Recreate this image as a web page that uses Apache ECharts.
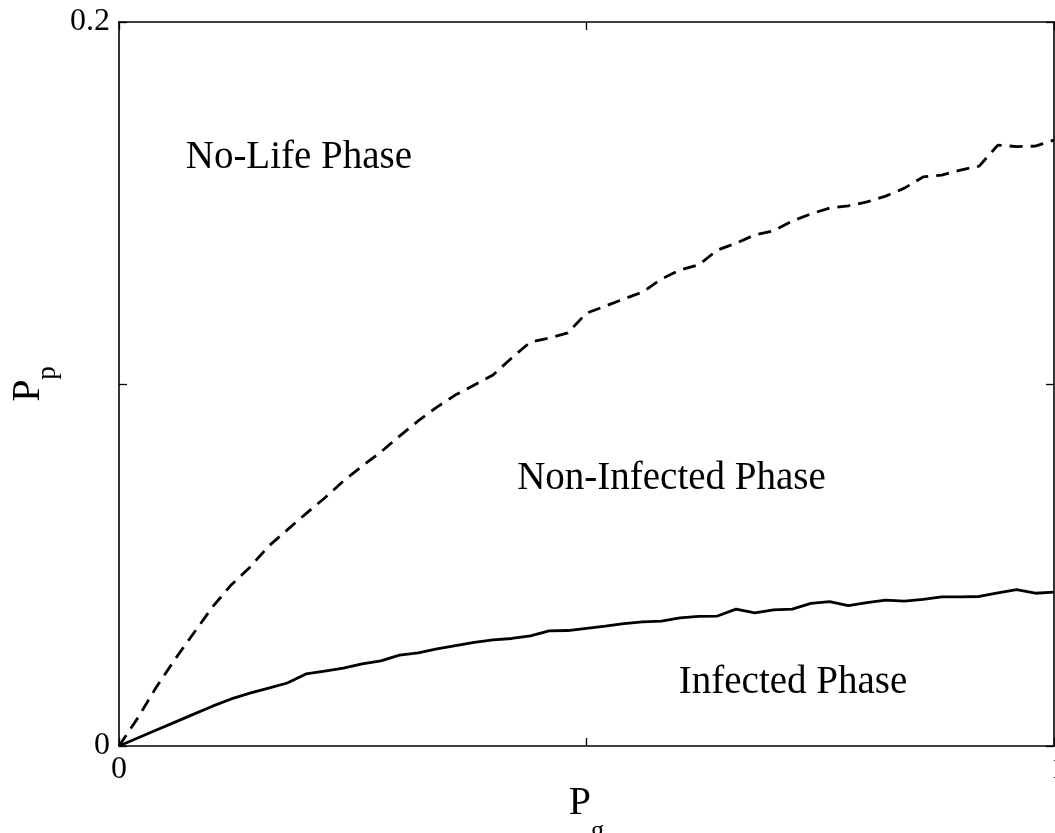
<!DOCTYPE html>
<html>
<head>
<meta charset="utf-8">
<script src="https://cdn.jsdelivr.net/npm/echarts@6/dist/echarts.min.js"></script>
<style>
html,body{margin:0;padding:0;background:#fff;}
#main{width:1055px;height:833px;}
</style>
</head>
<body>
<div id="main"></div>
<script>
const pg = [0,0.02,0.04,0.06,0.08,0.10,0.12,0.14,0.16,0.18,0.20,0.22,0.24,0.26,0.28,0.30,0.32,0.34,0.36,0.38,0.40,0.42,0.44,0.46,0.48,0.50,0.52,0.54,0.56,0.58,0.60,0.62,0.64,0.66,0.68,0.70,0.72,0.74,0.76,0.78,0.80,0.82,0.84,0.86,0.88,0.90,0.92,0.94,0.96,0.98,1.00];
const noLifeBoundary = [0,0.0077,0.0163,0.0240,0.0312,0.0384,0.0445,0.0494,0.0552,0.0597,0.0642,0.0685,0.0732,0.0773,0.0812,0.0856,0.0898,0.0936,0.0970,0.0997,0.1025,0.1072,0.1116,0.1127,0.1141,0.1196,0.1215,0.1235,0.1254,0.1290,0.1315,0.1329,0.1370,0.1389,0.1412,0.1423,0.1450,0.1470,0.1486,0.1492,0.1503,0.1519,0.1541,0.1572,0.1577,0.1591,0.1602,0.1660,0.1656,0.1657,0.1674];
const infectedBoundary = [0,0.0022,0.0044,0.0066,0.0088,0.0110,0.0130,0.0146,0.0160,0.0174,0.0199,0.0207,0.0215,0.0227,0.0235,0.0251,0.0257,0.0268,0.0277,0.0286,0.0293,0.0297,0.0304,0.0318,0.0319,0.0325,0.0331,0.0338,0.0343,0.0345,0.0354,0.0358,0.0359,0.0378,0.0368,0.0376,0.0378,0.0394,0.0399,0.0388,0.0396,0.0403,0.0400,0.0405,0.0412,0.0412,0.0413,0.0423,0.0432,0.0422,0.0425];
const phaseNames = ['No-Life Phase','Non-Infected Phase','Infected Phase'];
const phaseX = [0.1924, 0.5909, 0.7209];
const phaseY = [0.1624, 0.0737, 0.0174];
const xTickLabels = {0:'0', 1:'1'};
const yTickLabels = {0:'0', 0.2:'0.2'};

const FONT = "'Liberation Serif','Times New Roman',serif";
const chart = echarts.init(document.getElementById('main'), null, {renderer:'canvas'});
const axisLine = {show:true, onZero:false, lineStyle:{color:'#000', width:1.6}};
const tick = {show:true, inside:true, length:8, lineStyle:{color:'#000', width:1.3}};
const zip = (xs, ys) => xs.map((x,i)=>[x, ys[i]]);
const richFor = (subPad) => ({
  m:{fontFamily:FONT, fontSize:40, lineHeight:40, color:'#000', verticalAlign:'top'},
  s:{fontFamily:FONT, fontSize:27, color:'#000', verticalAlign:'top', padding:[subPad,0,0,0]}
});

chart.setOption({
  backgroundColor:'#fff',
  animation:false,
  grid:{left:119, right:1, top:22, bottom:87, containLabel:false, outerBoundsMode:'none'},
  xAxis:[
    {type:'value', position:'bottom', min:0, max:1, interval:0.5,
     axisLine:axisLine, axisTick:tick, splitLine:{show:false},
     axisLabel:{margin:8, fontFamily:FONT, fontSize:32, color:'#000',
       rich:{r:{fontFamily:FONT, fontSize:32, color:'#000', padding:[0,0,0,10]}},
       formatter:v=> (v===1 ? '{r|' + xTickLabels[1] + '}' : (xTickLabels[v]!==undefined ? xTickLabels[v] : ''))},
     name:'{m|P}{s|g}', nameLocation:'middle', nameGap:37.5, nameMoveOverlap:false,
     nameTextStyle:{rich:richFor(35)}},
    {type:'value', position:'top', min:0, max:1, interval:0.5,
     axisLine:axisLine, axisTick:tick, axisLabel:{show:false}, splitLine:{show:false}}
  ],
  yAxis:[
    {type:'value', position:'left', min:0, max:0.2, interval:0.1,
     axisLine:axisLine, axisTick:tick, splitLine:{show:false},
     axisLabel:{margin:9, fontFamily:FONT, fontSize:32, color:'#000', padding:[5,0,0,0],
       formatter:v=> { const k = Math.round(v*10)/10; return yTickLabels[k]!==undefined ? yTickLabels[k] : ''; }},
     name:'{m|P}{s|p}', nameLocation:'middle', nameGap:58, nameRotate:90, nameMoveOverlap:false,
     nameTextStyle:{rich:richFor(26)}},
    {type:'value', position:'right', min:0, max:0.2, interval:0.1,
     axisLine:axisLine, axisTick:tick, axisLabel:{show:false}, splitLine:{show:false}}
  ],
  series:[
    {type:'line', name:'no-life boundary', data:zip(pg, noLifeBoundary), showSymbol:false,
     lineStyle:{color:'#000', width:2.8, type:[13,8]}},
    {type:'line', name:'infected boundary', data:zip(pg, infectedBoundary), showSymbol:false,
     lineStyle:{color:'#000', width:2.8, type:'solid'}},
    {type:'scatter', data:phaseNames.map((t,i)=>[phaseX[i], phaseY[i], t]), symbolSize:0, silent:true,
     itemStyle:{color:'#000', opacity:1},
     label:{show:true, position:'inside', formatter:p=>p.data[2], fontFamily:FONT, fontSize:39, color:'#000', opacity:1, textBorderWidth:0}}
  ]
});
</script>
</body>
</html>
